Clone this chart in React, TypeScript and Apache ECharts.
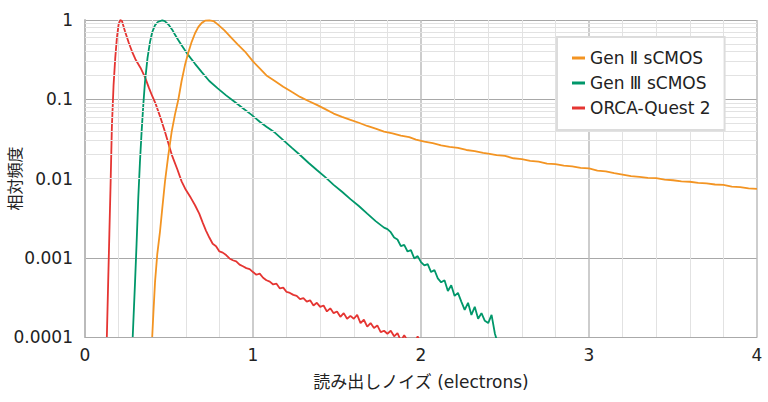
import React, { useEffect, useRef } from "react";
import * as echarts from "echarts";

const seriesNames = ["Gen Ⅱ sCMOS", "Gen Ⅲ sCMOS", "ORCA-Quest 2"];
const seriesColors = ["#f39422", "#00976a", "#e53532"];

const xTickLabels = ["0", "1", "2", "3", "4"];
const yTickLabels = ["0.0001", "0.001", "0.01", "0.1", "1"];

const gen2X = [
  0.40, 0.408, 0.417, 0.43, 0.446, 0.46, 0.476, 0.495, 0.516, 0.536, 0.556, 0.575, 0.595, 0.615, 0.635, 0.655,
  0.675, 0.695, 0.715, 0.74, 0.765, 0.79, 0.83, 0.873, 0.91, 0.952, 1.0, 1.04, 1.08, 1.13, 1.18, 1.23,
  1.28, 1.33, 1.38, 1.43, 1.48, 1.53, 1.58, 1.63, 1.68, 1.73, 1.78, 1.83, 1.88, 1.93, 1.97, 2.02,
  2.07, 2.12, 2.17, 2.22, 2.27, 2.32, 2.37, 2.40, 2.45, 2.50, 2.55, 2.60, 2.65, 2.70, 2.75, 2.80,
  2.85, 2.90, 2.95, 3.00, 3.05, 3.10, 3.15, 3.20, 3.25, 3.30, 3.35, 3.40, 3.45, 3.50, 3.55, 3.60,
  3.65, 3.70, 3.75, 3.80, 3.85, 3.90, 3.95, 4.00,
];
const gen2Y = [
  0.0001, 0.00022, 0.0005, 0.0011, 0.0021, 0.0042, 0.0091, 0.019, 0.039, 0.065, 0.1, 0.17, 0.27, 0.39, 0.53, 0.68,
  0.82, 0.92, 0.98, 0.99, 0.97, 0.88, 0.74, 0.59, 0.49, 0.4, 0.3, 0.245, 0.2, 0.17, 0.144, 0.124,
  0.107, 0.095, 0.085, 0.075, 0.066, 0.06, 0.055, 0.0505, 0.046, 0.0425, 0.039, 0.0372, 0.0348, 0.0332, 0.031, 0.0292,
  0.0279, 0.0262, 0.0251, 0.0243, 0.0229, 0.0222, 0.0211, 0.0206, 0.0197, 0.0193, 0.018, 0.0176, 0.0167, 0.0163, 0.0154, 0.0152,
  0.0145, 0.0142, 0.0136, 0.0134, 0.0126, 0.0123, 0.0117, 0.0112, 0.0107, 0.0105, 0.0102, 0.0101, 0.0097, 0.0095, 0.0092, 0.0091,
  0.0088, 0.0087, 0.0084, 0.0083, 0.0079, 0.0078, 0.0075, 0.0074,
];

const gen3X = [
  0.284, 0.29, 0.298, 0.307, 0.317, 0.327, 0.337, 0.347, 0.357, 0.372, 0.387, 0.40, 0.417, 0.435, 0.46, 0.475,
  0.50, 0.52, 0.536, 0.555, 0.575, 0.595, 0.615, 0.655, 0.695, 0.74, 0.79, 0.84, 0.89, 0.94, 0.99, 1.04, 1.08, 1.13, 1.18,
  1.23, 1.28, 1.33, 1.38, 1.43, 1.48, 1.53, 1.58, 1.63, 1.68, 1.73, 1.78, 1.80, 1.82, 1.84, 1.86,
  1.88, 1.90, 1.92, 1.94, 1.96, 1.98, 2.00, 2.02, 2.04, 2.06, 2.08, 2.10, 2.12, 2.14, 2.16, 2.18,
  2.20, 2.22, 2.24, 2.26, 2.28, 2.30, 2.32, 2.34, 2.36, 2.38, 2.40, 2.42, 2.44, 2.46,
];
const gen3Y = [
  0.0001, 0.0002, 0.0005, 0.0015, 0.0056, 0.016, 0.039, 0.085, 0.165, 0.33, 0.53, 0.7, 0.86, 0.95, 0.99, 0.97,
  0.86, 0.75, 0.65, 0.56, 0.48, 0.415, 0.36, 0.28, 0.22, 0.17, 0.137, 0.112, 0.093, 0.077, 0.064, 0.052, 0.045, 0.038, 0.0305,
  0.0245, 0.0198, 0.0158, 0.0128, 0.0104, 0.0083, 0.0068, 0.0055, 0.0045, 0.0036, 0.0029, 0.0024, 0.0023, 0.0021, 0.0018, 0.0017,
  0.0014, 0.00145, 0.0012, 0.00125, 0.00098, 0.00105, 0.00088, 0.0008, 0.00083, 0.00066, 0.0007, 0.00055, 0.00049, 0.00052, 0.00038, 0.00045,
  0.00033, 0.00036, 0.00028, 0.00022, 0.00027, 0.00019, 0.00024, 0.00017, 0.0002, 0.00016, 0.00015, 0.00019, 0.00011, 0.00008,
];

const orcaX = [
  0.13, 0.138, 0.145, 0.152, 0.16, 0.17, 0.18, 0.19, 0.2, 0.21, 0.22, 0.238, 0.26, 0.28, 0.30, 0.33,
  0.357, 0.38, 0.40, 0.42, 0.45, 0.476, 0.50, 0.52, 0.55, 0.575, 0.60, 0.63, 0.655, 0.68, 0.70, 0.72,
  0.74, 0.76, 0.78, 0.80, 0.82, 0.84, 0.86, 0.88, 0.90, 0.92, 0.94, 0.96, 0.98, 1.00, 1.02, 1.04,
  1.06, 1.08, 1.10, 1.12, 1.14, 1.16, 1.18, 1.20, 1.22, 1.24, 1.26, 1.28, 1.30, 1.32, 1.34, 1.36,
  1.38, 1.40, 1.42, 1.44, 1.46, 1.48, 1.50, 1.52, 1.54, 1.56, 1.58, 1.60, 1.62, 1.64, 1.66, 1.68,
  1.70, 1.72, 1.74, 1.76, 1.78, 1.80, 1.82, 1.84, 1.86, 1.88, 1.90, 1.92, 1.94, 1.96, 1.98, 2.00, 2.02,
];
const orcaY = [
  0.0001, 0.0005, 0.002, 0.008, 0.045, 0.15, 0.33, 0.6, 0.88, 1.0, 0.97, 0.72, 0.52, 0.4, 0.32, 0.25,
  0.19, 0.14, 0.11, 0.088, 0.058, 0.039, 0.026, 0.019, 0.013, 0.0092, 0.0072, 0.0057, 0.0046, 0.0036, 0.0028, 0.0022,
  0.0018, 0.0015, 0.0014, 0.0012, 0.00116, 0.00108, 0.00098, 0.00093, 0.0009, 0.00082, 0.00078, 0.00074, 0.00072, 0.00066, 0.00061, 0.00063,
  0.00056, 0.00052, 0.0005, 0.00046, 0.00047, 0.00041, 0.00042, 0.00037, 0.00036, 0.00034, 0.00033, 0.0003, 0.00031, 0.00028, 0.00029, 0.00025,
  0.00027, 0.00024, 0.00025, 0.00021, 0.00023, 0.0002, 0.00021, 0.00018, 0.0002, 0.00017, 0.000185, 0.00017, 0.00019, 0.00015, 0.000165, 0.000135,
  0.00015, 0.00013, 0.00014, 0.000115, 0.00012, 0.00011, 0.00012, 0.000102, 0.000112, 0.00009, 0.000105, 0.00009, 0.000085, 0.00008, 0.000102, 0.00008, 0.00007,
];

const yMinorValues: number[] = [];
for (let e = -4; e < 0; e++) {
  for (let k = 2; k <= 9; k++) yMinorValues.push(k * Math.pow(10, e));
}

const zip = (xs: number[], ys: number[]) => xs.map((x, i) => [x, ys[i]]);

const FONT = "'DejaVu Sans', 'Noto Sans CJK JP', sans-serif";

export default function App() {
  const ref = useRef<HTMLDivElement>(null);
  useEffect(() => {
    if (!ref.current) return;
    const chart = echarts.init(ref.current, undefined, { renderer: "svg" });
    const data = [zip(gen2X, gen2Y), zip(gen3X, gen3Y), zip(orcaX, orcaY)];
    chart.setOption({
      animation: false,
      textStyle: { fontFamily: FONT },
      grid: { left: 85, right: 11, top: 20, bottom: 65, containLabel: false, outerBoundsMode: "none" },
      legend: {
        data: seriesNames,
        orient: "vertical",
        left: 557,
        top: 37,
        z: 100,
        backgroundColor: "#fff",
        borderColor: "#dcdcdc",
        borderWidth: 2,
        borderRadius: 0,
        padding: [11, 14, 12, 15],
        itemGap: 5,
        itemWidth: 13,
        itemHeight: 3,
        icon: "rect",
        textStyle: { fontSize: 17, color: "#222", fontFamily: FONT, lineHeight: 20 },
      },
      xAxis: {
        type: "value",
        min: 0,
        max: 4,
        interval: 1,
        name: "読み出しノイズ (electrons)",
        nameLocation: "middle",
        nameGap: 36,
        nameMoveOverlap: false,
        nameTextStyle: { fontSize: 17, color: "#222", fontFamily: FONT },
        axisLine: { show: true, lineStyle: { color: "#aaa", width: 1 } },
        axisTick: { show: false },
        axisLabel: {
          fontSize: 17,
          color: "#222",
          margin: 9,
          fontFamily: FONT,
          formatter: (v: number) => xTickLabels[Math.round(v)] ?? "",
        },
        splitLine: { show: true, lineStyle: { color: "#bdbdbd", width: 1.5 } },
        minorTick: { show: false, splitNumber: 5 },
        minorSplitLine: { show: true, lineStyle: { color: "#e2e2e2", width: 1 } },
      },
      yAxis: {
        type: "log",
        logBase: 10,
        min: 0.0001,
        max: 1,
        name: "相対頻度",
        nameLocation: "middle",
        nameGap: 62,
        nameRotate: 90,
        nameMoveOverlap: false,
        nameTextStyle: { fontSize: 16, color: "#222", fontFamily: FONT },
        axisLine: { show: true, lineStyle: { color: "#bbb", width: 2 } },
        axisTick: { show: false },
        axisLabel: {
          fontSize: 17,
          color: "#222",
          margin: 12,
          fontFamily: FONT,
          formatter: (v: number) => yTickLabels[Math.round(Math.log10(v)) + 4] ?? "",
        },
        splitLine: { show: true, lineStyle: { color: "#a8a8a8", width: 1 } },
      },
      series: [
        {
          name: "minor",
          type: "line",
          data: [],
          silent: true,
          z: 1,
          markLine: {
            silent: true,
            symbol: "none",
            label: { show: false },
            lineStyle: { color: "#e2e2e2", type: "solid", width: 1 },
            data: yMinorValues.map((v) => ({ yAxis: v })),
          },
        },
        ...seriesNames.map((name, i) => ({
          name,
          type: "line",
          data: data[i],
          showSymbol: false,
          symbol: "none",
          clip: true,
          z: 3 + (2 - i),
          lineStyle: { color: seriesColors[i], width: 1.8 },
          itemStyle: { color: seriesColors[i] },
        })),
      ],
    });
    return () => chart.dispose();
  }, []);
  return (
    <div
      ref={ref}
      style={{ position: "fixed", left: 0, top: 0, width: 768, height: 402, background: "#fff" }}
    />
  );
}
